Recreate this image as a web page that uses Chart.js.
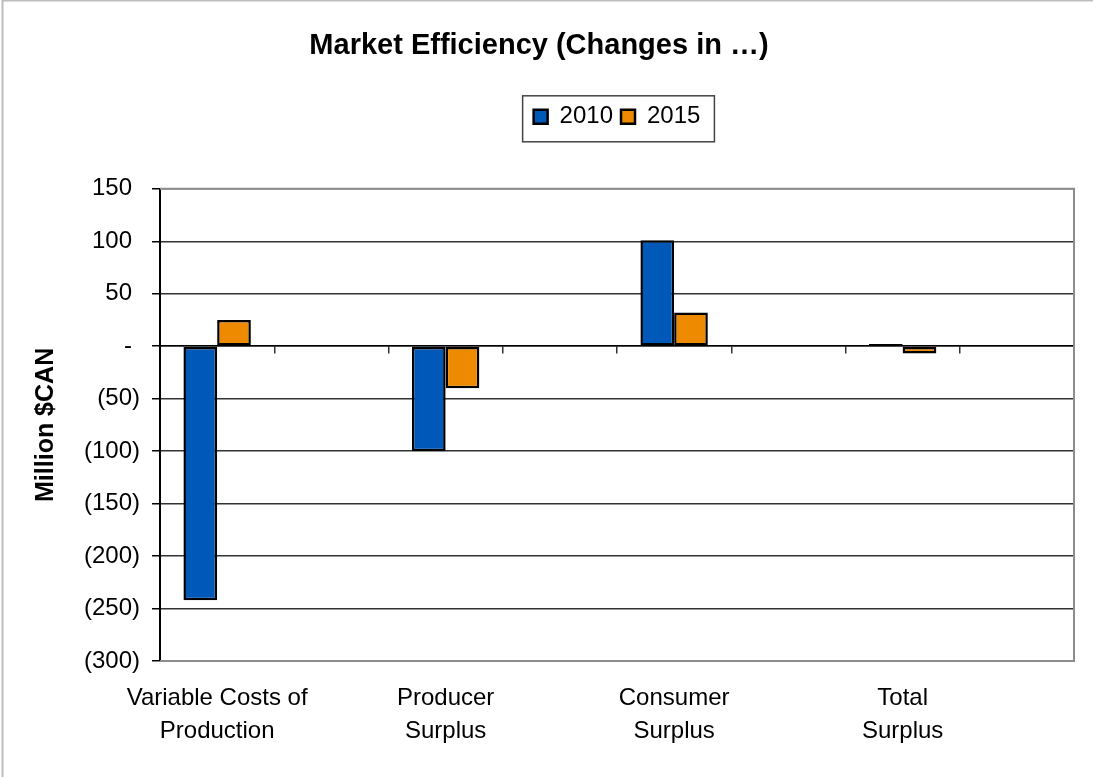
<!DOCTYPE html>
<html>
<head>
<meta charset="utf-8">
<script src="https://cdn.jsdelivr.net/npm/chart.js@4.4.0/dist/chart.umd.min.js"></script>
<style>
  body { margin: 0; background: #fff; }
</style>
</head>
<body>
<canvas id="effChart" width="1093" height="777"></canvas>
<script>
// Data (gaps between groups are empty categories, as in the original sheet)
const categories = [
    ['Variable Costs of', 'Production'], '',
    ['Producer', 'Surplus'], '',
    ['Consumer', 'Surplus'], '',
    ['Total', 'Surplus'], ''
];
const values2010 = [-242, null, -100, null, 101, null, 2, null];
const values2015 = [25, null, -40, null, 32, null, -7, null];
const yTicks = [150, 100, 50, 0, -50, -100, -150, -200, -250, -300];

const FONT = "'Liberation Sans', Arial, sans-serif";

// accounting style: (50) for negatives, - for zero, positives padded like ")"
function fmtTick(v) {
    if (v === 0) return '-\u2004';
    if (v < 0) return '(' + (-v) + ')';
    return v + '\u2004';
}

// outer border, plot frame and the box around the legend
const framePlugin = {
    id: 'frame',
    beforeInit(chart) {
        const lg = chart.legend;
        const fit = lg.fit;
        lg.fit = function () {
            fit.call(this);
            this.height += 50;
        };
    },
    beforeDraw(chart) {
        const ctx = chart.ctx;
        ctx.save();
        ctx.strokeStyle = '#bdbdbd';
        ctx.lineWidth = 2;
        ctx.beginPath();
        ctx.moveTo(2.5, chart.height);
        ctx.lineTo(2.5, 0.5);
        ctx.lineTo(chart.width, 0.5);
        ctx.stroke();
        ctx.restore();
    },
    beforeDatasetsDraw(chart) {
        const a = chart.chartArea;
        const ctx = chart.ctx;
        ctx.save();
        ctx.strokeStyle = '#8c8c8c';
        ctx.lineWidth = 2;
        ctx.beginPath();
        ctx.moveTo(a.left, a.top);
        ctx.lineTo(a.right, a.top);
        ctx.lineTo(a.right, a.bottom);
        ctx.lineTo(a.left, a.bottom);
        ctx.stroke();
        ctx.restore();
    },
    afterDraw(chart) {
        const boxes = chart.legend.legendHitBoxes;
        if (!boxes || !boxes.length) return;
        let x1 = Infinity, y1 = Infinity, x2 = -Infinity, y2 = -Infinity;
        boxes.forEach(b => {
            x1 = Math.min(x1, b.left); y1 = Math.min(y1, b.top);
            x2 = Math.max(x2, b.left + b.width); y2 = Math.max(y2, b.top + b.height);
        });
        const ctx = chart.ctx;
        ctx.save();
        ctx.strokeStyle = '#444';
        ctx.lineWidth = 1.5;
        ctx.strokeRect(x1 - 11, y1 - 9, (x2 - x1) + 25, (y2 - y1) + 22);
        ctx.restore();
    }
};

const ctx = document.getElementById('effChart').getContext('2d');
const effChart = new Chart(ctx, {
    type: 'bar',
    data: {
        labels: categories,
        datasets: [{
            label: '2010',
            data: values2010,
            backgroundColor: '#0059B9',
            borderColor: '#000',
            borderWidth: 2.5,
            borderSkipped: false,
            categoryPercentage: 0.59,
            barPercentage: 1
        }, {
            label: '2015',
            data: values2015,
            backgroundColor: '#EE8A00',
            borderColor: '#000',
            borderWidth: 2.5,
            borderSkipped: false,
            categoryPercentage: 0.59,
            barPercentage: 1
        }]
    },
    options: {
        responsive: false,
        animation: false,
        layout: { padding: { left: 4, right: 19, top: 0, bottom: 8 } },
        plugins: {
            title: {
                display: true,
                text: 'Market Efficiency (Changes in …)',
                color: '#000',
                font: { family: FONT, size: 29, weight: 'bold' },
                padding: { top: 29, bottom: 33 }
            },
            legend: {
                position: 'top',
                fullSize: false,
                labels: {
                    color: '#000',
                    font: { family: FONT, size: 24 },
                    boxWidth: 14,
                    boxHeight: 14,
                    padding: 8
                }
            },
            tooltip: { enabled: false }
        },
        scales: {
            x: {
                type: 'category',
                offset: true,
                grid: { display: false, drawTicks: false },
                border: { display: false },
                ticks: {
                    color: '#000',
                    font: { family: FONT, size: 24, lineHeight: 1.375 },
                    padding: 21,
                    autoSkip: false,
                    maxRotation: 0
                }
            },
            xz: {
                type: 'category',
                position: { y: 0 },
                offset: true,
                grid: {
                    offset: true,
                    drawOnChartArea: false,
                    drawTicks: true,
                    tickLength: 7,
                    color: '#333',
                    lineWidth: 1.5
                },
                border: { display: true, color: '#000', width: 1.5 },
                ticks: { display: false }
            },
            y: {
                min: -300,
                max: 150,
                afterBuildTicks(axis) {
                    axis.ticks = yTicks.map(v => ({ value: v }));
                },
                grid: {
                    color: c => (c.tick && (c.tick.value === 150 || c.tick.value === -300)) ? '#8c8c8c' : '#333',
                    lineWidth: 1.5,
                    tickLength: 8,
                    tickColor: '#000'
                },
                border: { display: true, color: '#000', width: 2 },
                ticks: {
                    color: '#000',
                    font: { family: FONT, size: 24 },
                    padding: 12,
                    callback: v => fmtTick(v)
                },
                title: {
                    display: true,
                    text: 'Million $CAN',
                    color: '#000',
                    font: { family: FONT, size: 25, weight: 'bold' },
                    padding: { top: 27, bottom: 11 }
                }
            }
        }
    },
    plugins: [framePlugin]
});
</script>
</body>
</html>
